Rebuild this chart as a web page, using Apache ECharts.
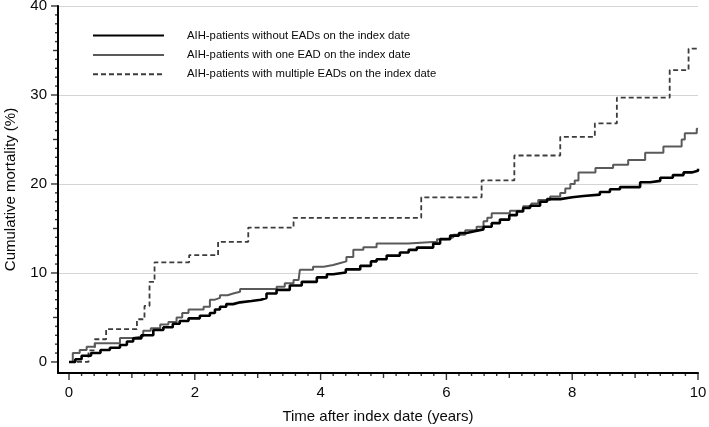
<!DOCTYPE html>
<html>
<head>
<meta charset="utf-8">
<script src="https://cdn.jsdelivr.net/npm/echarts@6/dist/echarts.min.js"></script>
<style>
html,body{margin:0;padding:0;background:#fff;}
#chart{width:709px;height:427px;}
</style>
</head>
<body>
<div id="chart"></div>
<script>
// ---- data ----
const seriesNames = [
  'AIH-patients without EADs on the index date',
  'AIH-patients with one EAD on the index date',
  'AIH-patients with multiple EADs on the index date'
];
const noneT = [0,0.1,0.2,0.35,0.5,0.65,0.81,0.92,1.02,1.15,1.34,1.5,1.65,1.76,1.9,2.08,2.24,2.32,2.4,2.5,2.61,2.72,2.9,3.05,3.14,3.3,3.51,3.7,3.94,4.1,4.2,4.4,4.63,4.8,4.89,5.05,5.26,5.4,5.53,5.79,5.9,6.06,6.2,6.32,6.45,6.59,6.72,6.85,7.0,7.12,7.22,7.33,7.49,7.6,7.81,8.0,8.18,8.44,8.6,8.76,9.08,9.24,9.4,9.6,9.77,9.9,10];
const noneY = [0,0.3,0.7,1.0,1.35,1.6,1.9,2.3,2.65,3.0,3.6,3.9,4.3,4.6,4.9,5.2,5.5,5.9,6.2,6.5,6.7,6.85,7.0,7.2,7.7,8.1,8.6,9.0,9.5,9.85,10.05,10.4,10.8,11.3,11.55,11.95,12.3,12.6,12.85,13.3,13.8,14.2,14.5,14.7,14.9,15.2,15.6,16.0,16.5,16.9,17.3,17.55,18.0,18.3,18.5,18.65,18.8,19.1,19.4,19.65,20.2,20.35,20.7,21.0,21.3,21.5,21.7];
const oneT = [0,0.06,0.17,0.28,0.41,0.81,1.02,1.18,1.3,1.45,1.58,1.71,1.8,1.9,2.14,2.24,2.32,2.4,2.52,2.61,2.72,3.3,3.43,3.57,3.65,3.67,3.88,4.05,4.2,4.3,4.41,4.52,4.68,4.89,5.39,5.85,6.0,6.11,6.3,6.48,6.59,6.65,6.72,7.01,7.22,7.35,7.46,7.65,7.81,7.89,7.97,8.04,8.1,8.37,8.65,8.89,9.16,9.45,9.74,9.79,9.98,10];
const oneY = [0,1.0,1.35,1.7,2.1,2.7,2.9,3.5,3.8,4.2,4.5,5.0,5.5,5.9,6.2,7.0,7.2,7.5,7.7,7.9,8.2,8.45,8.85,9.2,9.4,10.35,10.7,10.9,11.1,11.3,11.8,12.6,12.9,13.3,13.5,13.8,14.0,14.3,14.8,15.2,15.8,16.2,16.7,17.0,17.5,17.8,18.2,18.6,19.0,19.5,20.0,20.4,21.3,21.8,22.15,22.7,23.5,24.2,25.0,25.7,26.2,26.2];
const multiT = [0,0.31,0.41,0.59,1.08,1.2,1.28,1.36,1.91,2.37,2.85,3.57,5.6,6.56,7.08,7.81,8.36,8.71,9.55,9.85,10];
const multiY = [0,1.3,2.55,3.7,4.8,6.3,9.0,11.2,12.0,13.5,15.1,16.2,18.5,20.4,23.2,25.3,26.8,29.7,32.8,35.2,35.2];

// ---- tick labels / tick positions ----
const xMajorTicks = [0,2,4,6,8,10];
const xMidTicks = [1,3,5,7,9];
const xMinorTicks = [0.2,0.4,0.6,0.8,1.2,1.4,1.6,1.8,2.2,2.4,2.6,2.8,3.2,3.4,3.6,3.8,4.2,4.4,4.6,4.8,5.2,5.4,5.6,5.8,6.2,6.4,6.6,6.8,7.2,7.4,7.6,7.8,8.2,8.4,8.6,8.8,9.2,9.4,9.6,9.8];
const yMajorTicks = [0,10,20,30,40];
const yMidTicks = [5,15,25,35];
const yMinorTicks = [1,2,3,4,6,7,8,9,11,12,13,14,16,17,18,19,21,22,23,24,26,27,28,29,31,32,33,34,36,37,38,39];
const yGridValues = [10,20,30,40];

const xTitle = 'Time after index date (years)';
const yTitle = 'Cumulative mortality (%)';

const zip = (a, b) => a.map((v, i) => [v, b[i]]);

const FONT = "'Liberation Sans', Arial, Helvetica, sans-serif";
const TXT = '#0a0a0a';
const X_MIN = -0.175, X_MAX = 10, Y_MIN = -1.24, Y_MAX = 40;

// tick marks drawn through the axes' own scales (scatter at the axis edge)
function xTickSeries(vals, len) {
  return {
    type: 'scatter', silent: true, clip: false, z: 5,
    data: vals.map(v => [v, Y_MIN]),
    symbol: 'rect', symbolSize: [1.4, len], symbolOffset: [0, len / 2],
    itemStyle: { color: '#000' }
  };
}
function yTickSeries(vals, len) {
  return {
    type: 'scatter', silent: true, clip: false, z: 5,
    data: vals.map(v => [X_MIN, v]),
    symbol: 'rect', symbolSize: [len, 1.4], symbolOffset: [-len / 2, 0],
    itemStyle: { color: '#000' }
  };
}

const chart = echarts.init(document.getElementById('chart'));
chart.setOption({
  animation: false,
  grid: { left: 58, right: 11, top: 6, bottom: 54, outerBoundsMode: 'none' },
  legend: {
    orient: 'vertical', left: 87, top: 25,
    data: seriesNames,
    itemWidth: 71, itemHeight: 14, itemGap: 8.1,
    itemStyle: { opacity: 0 },
    textStyle: { fontFamily: FONT, fontSize: 11.3, color: TXT, padding: [0, 0, 0, 18] },
    selectedMode: false
  },
  xAxis: [{
    type: 'value', position: 'bottom', min: X_MIN, max: X_MAX,
    axisLine: { show: true, onZero: false, lineStyle: { color: '#000', width: 2 } },
    axisTick: { show: false },
    splitLine: { show: false },
    axisLabel: { show: true, customValues: xMajorTicks, margin: 12, fontFamily: FONT, fontSize: 15, color: TXT },
    name: xTitle, nameLocation: 'middle', nameGap: 36,
    nameTextStyle: { fontFamily: FONT, fontSize: 15, color: TXT }
  }],
  yAxis: [{
    type: 'value', position: 'left', min: Y_MIN, max: Y_MAX,
    axisLine: { show: true, onZero: false, lineStyle: { color: '#000', width: 2 } },
    axisTick: { show: false, customValues: yGridValues },
    splitLine: { show: true, lineStyle: { color: '#d4d4d4', width: 1.2 } },
    axisLabel: { show: true, customValues: yMajorTicks, margin: 11, fontFamily: FONT, fontSize: 15, color: TXT },
    name: yTitle, nameLocation: 'middle', nameGap: 40, nameRotate: 90,
    nameTextStyle: { fontFamily: FONT, fontSize: 15, color: TXT }
  }],
  series: [
    {
      name: seriesNames[2], type: 'line', step: 'end', showSymbol: false, symbol: 'none',
      data: zip(multiT, multiY),
      lineStyle: { color: '#3c3c3c', width: 1.8, type: [5, 3] },
      itemStyle: { color: '#3c3c3c' }
    },
    {
      name: seriesNames[1], type: 'line', step: 'end', showSymbol: false, symbol: 'none',
      data: zip(oneT, oneY),
      lineStyle: { color: '#5a5a5a', width: 2 },
      itemStyle: { color: '#5a5a5a' }
    },
    {
      name: seriesNames[0], type: 'line', step: 'end', showSymbol: false, symbol: 'none',
      data: zip(noneT, noneY),
      lineStyle: { color: '#000', width: 2.6 },
      itemStyle: { color: '#000' }
    },
    xTickSeries(xMajorTicks, 7),
    xTickSeries(xMidTicks, 5),
    xTickSeries(xMinorTicks, 3),
    yTickSeries(yMajorTicks, 7),
    yTickSeries(yMidTicks, 5),
    yTickSeries(yMinorTicks, 3)
  ]
});
</script>
</body>
</html>
